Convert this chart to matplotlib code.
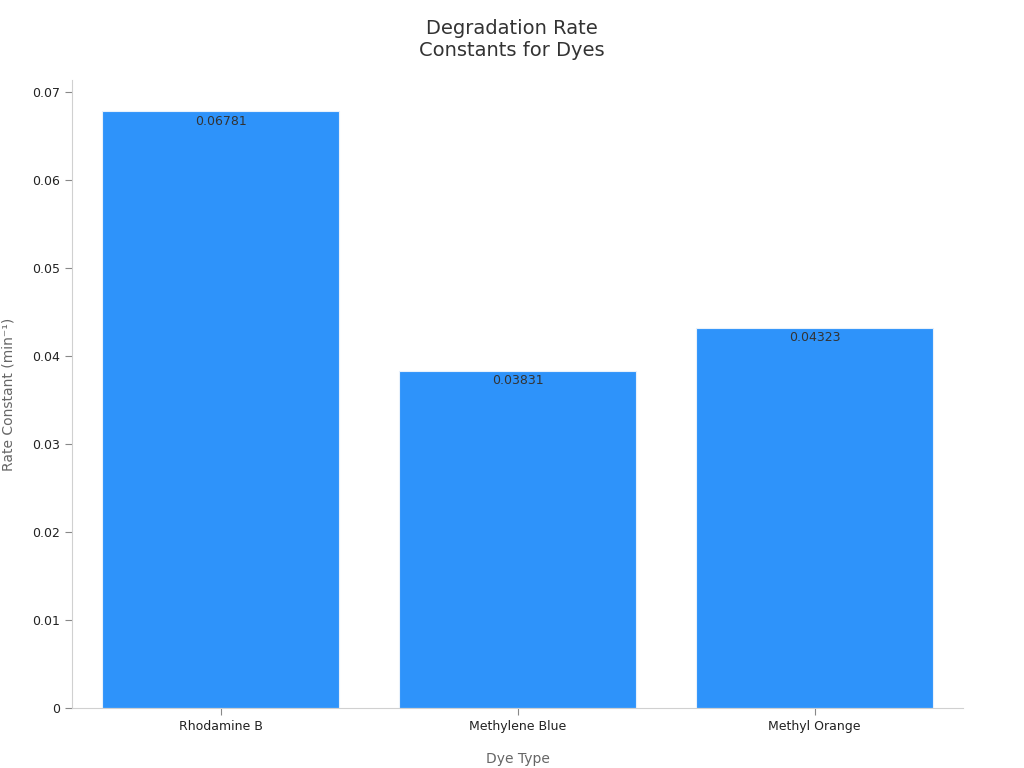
import matplotlib
matplotlib.use("Agg")
import matplotlib.pyplot as plt

dyes = ["Rhodamine B", "Methylene Blue", "Methyl Orange"]
rates = [0.06781, 0.03831, 0.04323]

fig = plt.figure(figsize=(10.24, 7.68), dpi=100)
ax = fig.add_axes([72 / 1024, 60 / 768, 891 / 1024, 628 / 768])

x = range(len(dyes))
ax.bar(x, rates, width=0.8, color="#2E93FA", edgecolor="#e8f1fb", linewidth=0.8)
for xi, v in zip(x, rates):
    ax.text(xi, v - 0.0004, f"{v:.5f}", ha="center", va="top", fontsize=9, color="#333333")

ax.set_xlim(-0.5, 2.5)
ax.set_ylim(0, 0.07136)
ax.set_xticks(list(x))
ax.set_xticklabels(dyes, fontsize=9, color="#222222")
ax.set_yticks([0, 0.01, 0.02, 0.03, 0.04, 0.05, 0.06, 0.07])
ax.set_yticklabels(["0", "0.01", "0.02", "0.03", "0.04", "0.05", "0.06", "0.07"],
                   fontsize=9, color="#222222")
ax.tick_params(color="#888888", length=5)
for side in ("top", "right"):
    ax.spines[side].set_visible(False)
for side in ("left", "bottom"):
    ax.spines[side].set_color("#d0d0d0")

ax.set_xlabel("Dye Type", fontsize=10, color="#666666", labelpad=14)
ax.set_ylabel("Rate Constant (min\u207b\u00b9)", fontsize=10, color="#666666", labelpad=12)
fig.suptitle("Degradation Rate\nConstants for Dyes", fontsize=14, color="#333333", y=0.975)

fig.savefig("out.png", dpi=100)
